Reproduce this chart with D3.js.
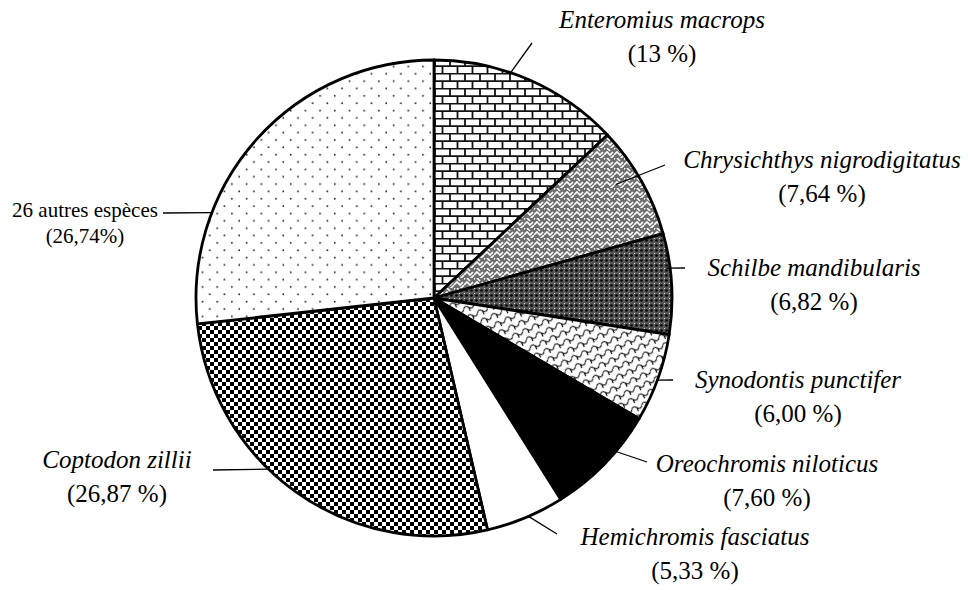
<!DOCTYPE html>
<html>
<head>
<meta charset="utf-8">
<script src="https://cdn.jsdelivr.net/npm/d3@7"></script>
<style>
  body { margin: 0; background: #fff; }
  text { font-family: "Liberation Serif", "Times New Roman", serif; fill: #000; }
</style>
</head>
<body>
<div id="chart"></div>
<script>
// slices, clockwise from 12 o'clock
const species = [
  "Enteromius macrops",
  "Chrysichthys nigrodigitatus",
  "Schilbe mandibularis",
  "Synodontis punctifer",
  "Oreochromis niloticus",
  "Hemichromis fasciatus",
  "Coptodon zillii",
  "26 autres espèces",
];
const shares = [13, 7.64, 6.82, 6.0, 7.6, 5.33, 26.87, 26.74];
const pctLabels = [
  "(13 %)",
  "(7,64 %)",
  "(6,82 %)",
  "(6,00 %)",
  "(7,60 %)",
  "(5,33 %)",
  "(26,87 %)",
  "(26,74%)",
];
const fills = [
  "url(#bricks)",
  "url(#weave)",
  "url(#grid)",
  "url(#scales)",
  "#000",
  "#fff",
  "url(#checker)",
  "url(#dots)",
];

// label placement: text centre / baseline, leader start (angle deg, radius frac), leader end
const labelLayout = [
  { x: 662, y: 28, a: 18.8, k: 1.0, ex: 532, ey: 43, italic: true },
  { x: 822, y: 168, a: 58, k: 0.9, ex: 665, ey: 165, italic: true },
  { x: 814, y: 276, a: 82.7, k: 0.985, ex: 685, ey: 268, italic: true },
  { x: 798, y: 388, a: 110.2, k: 1.0, ex: 673, ey: 380, italic: true },
  { x: 767, y: 472, a: 130.5, k: 0.985, ex: 647, ey: 462, italic: true },
  { x: 695, y: 545, a: 156.6, k: 1.0, ex: 557, ey: 534, italic: true },
  { x: 117, y: 468, a: 224, k: 1.0, ex: 213, ey: 470, italic: true },
  { x: 85, y: 217, a: 291, k: 1.0, ex: 163, ey: 213, italic: false },
];

const size = { width: 973, height: 590 };
const center = { x: 434, y: 298 };
const radius = 238;

const svg = d3
  .select("#chart")
  .append("svg")
  .attr("width", size.width)
  .attr("height", size.height);

const defs = svg.append("defs");

// brick wall
const bricks = defs
  .append("pattern")
  .attr("id", "bricks")
  .attr("patternUnits", "userSpaceOnUse")
  .attr("width", 15)
  .attr("height", 15);
bricks.append("rect").attr("width", 15).attr("height", 15).attr("fill", "#fff");
bricks
  .append("path")
  .attr("d", "M0,0.7H15M0,8.2H15M1,0.7V8.2M8.5,8.2V15")
  .attr("stroke", "#111")
  .attr("stroke-width", 1.8)
  .attr("fill", "none");

// grey weave
const weave = defs
  .append("pattern")
  .attr("id", "weave")
  .attr("patternUnits", "userSpaceOnUse")
  .attr("width", 10)
  .attr("height", 10);
weave.append("rect").attr("width", 10).attr("height", 10).attr("fill", "#6e6e6e");
weave
  .append("path")
  .attr("d", "M0,7L3,4L6,7L9,4M-1,2L1,0M5,12L10,7M3,0L6,3")
  .attr("stroke", "#fff")
  .attr("stroke-width", 1.7)
  .attr("fill", "none");

// dark grid
const grid = defs
  .append("pattern")
  .attr("id", "grid")
  .attr("patternUnits", "userSpaceOnUse")
  .attr("width", 5)
  .attr("height", 5);
grid.append("rect").attr("width", 5).attr("height", 5).attr("fill", "#585858");
grid.append("circle").attr("cx", 2.5).attr("cy", 2.5).attr("r", 1.3).attr("fill", "#000");
grid.append("rect").attr("width", 1).attr("height", 1).attr("fill", "#ddd");

// wavy scales
const scales = defs
  .append("pattern")
  .attr("id", "scales")
  .attr("patternUnits", "userSpaceOnUse")
  .attr("width", 11)
  .attr("height", 9)
  .attr("patternTransform", "rotate(-25)");
scales.append("rect").attr("width", 11).attr("height", 9).attr("fill", "#fff");
scales
  .append("path")
  .attr("d", "M0,5Q2.75,1 5.5,5T11,5M5.5,5V9")
  .attr("stroke", "#111")
  .attr("stroke-width", 1.2)
  .attr("fill", "none");

// checkerboard
const checker = defs
  .append("pattern")
  .attr("id", "checker")
  .attr("patternUnits", "userSpaceOnUse")
  .attr("width", 8)
  .attr("height", 8);
checker.append("rect").attr("width", 8).attr("height", 8).attr("fill", "#fff");
checker
  .selectAll("rect.sq")
  .data([0, 4])
  .join("rect")
  .attr("class", "sq")
  .attr("x", (d) => d)
  .attr("y", (d) => d)
  .attr("width", 4)
  .attr("height", 4)
  .attr("fill", "#000")
  .attr("shape-rendering", "crispEdges");

// sparse dots
const dots = defs
  .append("pattern")
  .attr("id", "dots")
  .attr("patternUnits", "userSpaceOnUse")
  .attr("width", 14.7)
  .attr("height", 14.7);
dots.append("rect").attr("width", 14.7).attr("height", 14.7).attr("fill", "#fff");
dots.append("circle").attr("cx", 3.7).attr("cy", 3.7).attr("r", 0.9).attr("fill", "#222");
dots.append("circle").attr("cx", 11).attr("cy", 11).attr("r", 0.9).attr("fill", "#222");

const pie = d3.pie().sort(null).value((d) => d);
const arc = d3.arc().innerRadius(0).outerRadius(radius);

const g = svg
  .append("g")
  .attr("transform", `translate(${center.x},${center.y})`);

g.selectAll("path")
  .data(pie(shares))
  .join("path")
  .attr("d", arc)
  .attr("fill", (d, i) => fills[i])
  .attr("stroke", "#000")
  .attr("stroke-width", 2.8)
  .attr("stroke-linejoin", "round");

// leader lines
svg
  .selectAll("line.leader")
  .data(labelLayout)
  .join("line")
  .attr("class", "leader")
  .attr("x1", (d) => center.x + d3.pointRadial((d.a * Math.PI) / 180, radius * d.k)[0])
  .attr("y1", (d) => center.y + d3.pointRadial((d.a * Math.PI) / 180, radius * d.k)[1])
  .attr("x2", (d) => d.ex)
  .attr("y2", (d) => d.ey)
  .attr("stroke", "#000")
  .attr("stroke-width", 1.3);

// labels
const labels = svg
  .selectAll("g.label")
  .data(labelLayout)
  .join("g")
  .attr("class", "label");

labels
  .append("text")
  .attr("x", (d) => d.x)
  .attr("y", (d) => d.y)
  .attr("text-anchor", "middle")
  .attr("font-size", (d) => (d.italic ? 25 : 21))
  .attr("font-style", (d) => (d.italic ? "italic" : "normal"))
  .text((d, i) => species[i]);

labels
  .append("text")
  .attr("x", (d) => d.x)
  .attr("y", (d) => d.y + (d.italic ? 34 : 26))
  .attr("text-anchor", "middle")
  .attr("font-size", (d) => (d.italic ? 25 : 21))
  .text((d, i) => pctLabels[i]);
</script>
</body>
</html>
